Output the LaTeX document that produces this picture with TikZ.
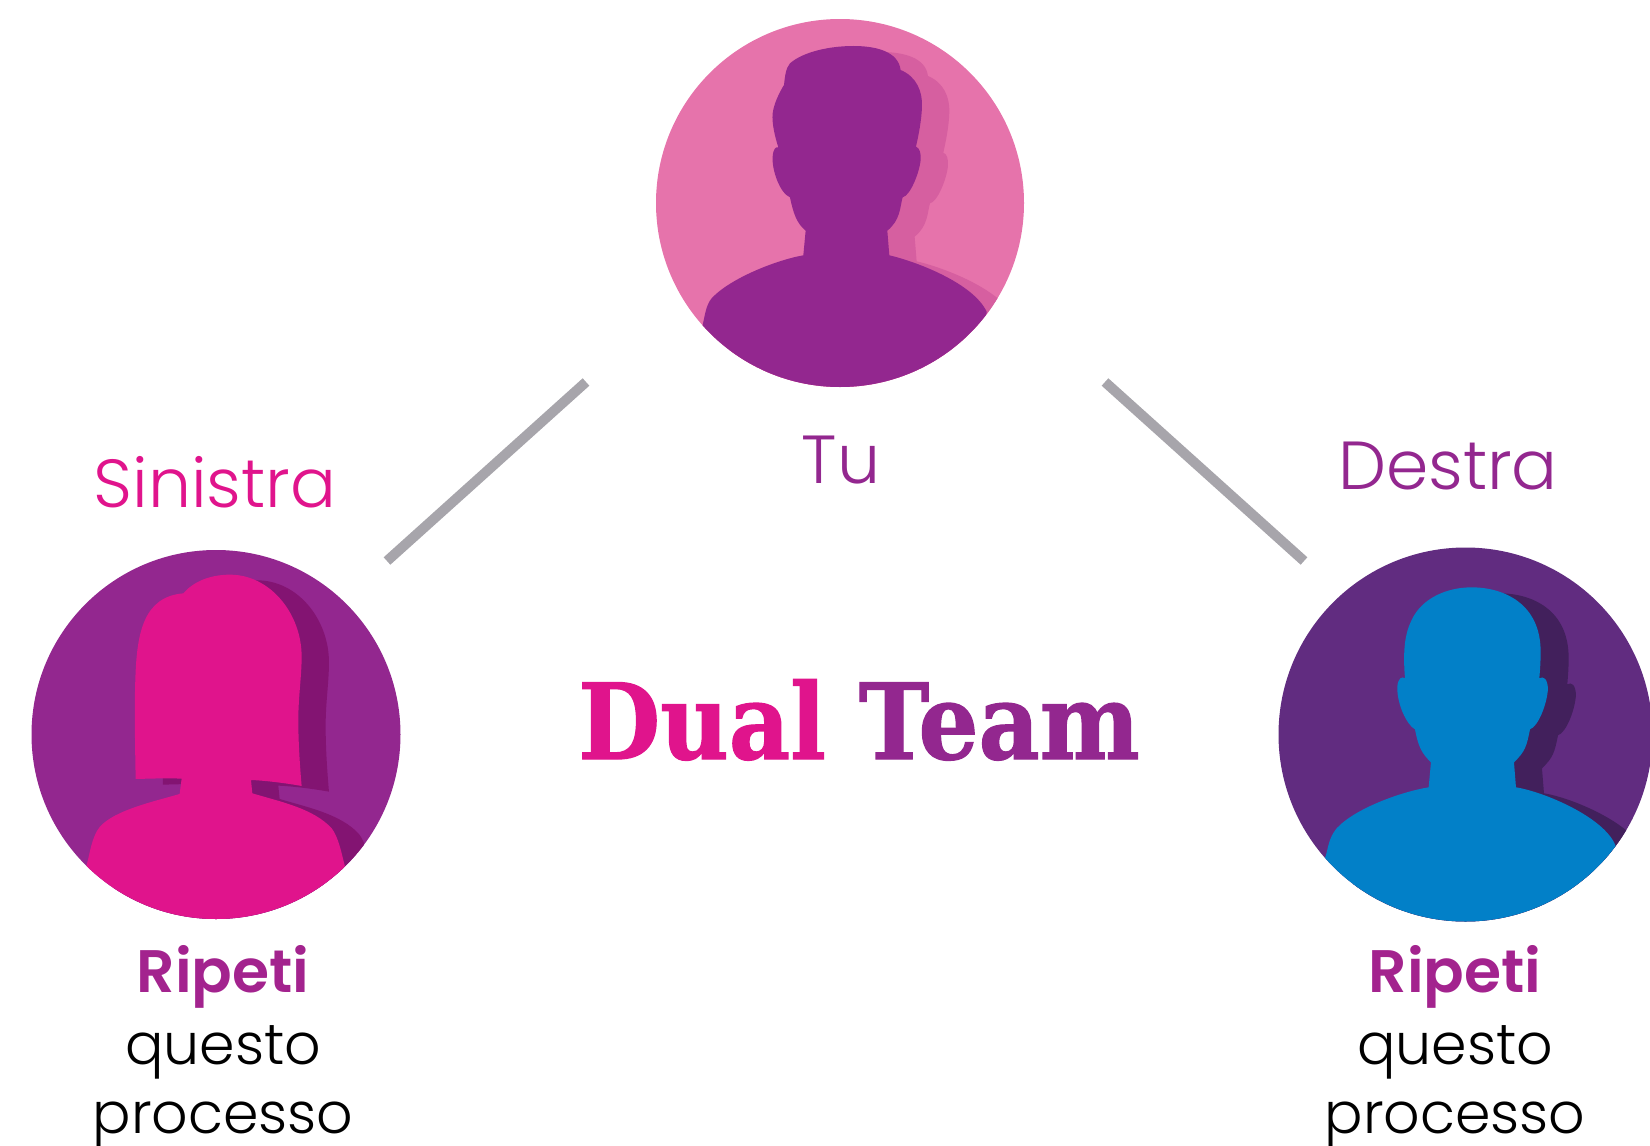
\documentclass[tikz,border=0pt]{standalone}
\usepackage{fontspec}
\setmainfont{Poppins Light}
\newfontfamily\boldf{Poppins SemiBold}
\newfontfamily\slabf[FakeBold=1.2]{DejaVu Serif Bold}
\definecolor{pinkA}{HTML}{E0148C}
\definecolor{purA}{HTML}{93278F}
\definecolor{pinkL}{HTML}{E673AB}
\definecolor{pinkS}{HTML}{D65FA0}
\definecolor{purS}{HTML}{831472}
\definecolor{vio}{HTML}{612C80}
\definecolor{vioS}{HTML}{42205C}
\definecolor{blu}{HTML}{0280C8}
\definecolor{gry}{HTML}{A7A5AB}
\definecolor{rip}{HTML}{A3238E}
\tikzset{
 link/.style={draw=gry,line width=10pt},
 lab/.style={inner sep=0pt,anchor=base,font=\fontsize{68}{68}\selectfont},
 body/.style={inner sep=0pt,anchor=base,font=\fontsize{57}{57}\selectfont},
 bold/.style={inner sep=0pt,anchor=base,text=rip,font=\fontsize{60}{60}\selectfont\boldf},
}
\newcommand{\manpath}{
 (188,945) .. controls (195,915) and (198,885) .. (215,865) .. controls (270,805) and (410,750) .. (490,736)
 -- (497,662) .. controls (470,640) and (460,610) .. (450,562)
 .. controls (420,550) and (395,480) .. (398,440) .. controls (400,415) and (408,410) .. (415,412)
 .. controls (405,380) and (395,340) .. (398,310) .. controls (403,270) and (432,225) .. (432,225)
 .. controls (435,200) and (437,175) .. (450,160) .. controls (490,125) and (570,108) .. (640,108)
 .. controls (710,108) and (775,125) .. (782,180) .. controls (830,200) and (848,245) .. (846,290)
 .. controls (845,330) and (835,380) .. (828,410) .. controls (840,415) and (843,430) .. (842,450)
 .. controls (838,490) and (810,558) .. (788,562) .. controls (780,590) and (782,630) .. (742,662)
 -- (748,736) .. controls (830,755) and (1000,820) .. (1040,905) -- (1040,1150) -- (188,1150) -- cycle}
\newcommand{\girlpath}{
 (200,975) .. controls (210,940) and (215,890) .. (240,860) .. controls (285,810) and (400,785) .. (479,762)
 -- (485,716) .. controls (440,714) and (390,716) .. (347,717) .. controls (345,600) and (343,500) .. (346,420)
 .. controls (350,280) and (370,170) .. (490,160) .. controls (520,125) and (570,104) .. (630,104)
 .. controls (750,104) and (845,220) .. (845,350) .. controls (845,410) and (835,470) .. (835,540)
 .. controls (835,610) and (840,680) .. (845,738) .. controls (800,730) and (740,722) .. (693,720)
 -- (697,760) .. controls (780,785) and (880,805) .. (935,865) .. controls (955,890) and (965,940) .. (975,980)
 -- (975,1150) -- (200,1150) -- cycle}
\newcommand{\guypath}{
 (165,955) .. controls (175,925) and (175,895) .. (200,865) .. controls (255,805) and (395,755) .. (476,742)
 -- (483,667) .. controls (455,640) and (445,620) .. (435,568)
 .. controls (410,555) and (380,490) .. (382,440) .. controls (384,415) and (395,408) .. (405,415)
 .. controls (398,330) and (405,280) .. (425,240) .. controls (455,175) and (530,142) .. (605,142)
 .. controls (700,142) and (812,190) .. (812,335) .. controls (812,370) and (810,390) .. (808,415)
 .. controls (820,408) and (832,415) .. (834,445) .. controls (832,490) and (805,560) .. (780,568)
 .. controls (770,620) and (765,635) .. (732,667)
 -- (738,742) .. controls (820,755) and (1000,830) .. (1036,915) -- (1036,1150) -- (165,1150) -- cycle}
\begin{document}
\begin{tikzpicture}[x=1pt,y=-1pt]
\useasboundingbox (0,0) rectangle (1650,1146);
% top
\fill[pinkL] (840,203) circle[radius=184];
\begin{scope}
 \clip (840,203) circle[radius=184];
 \begin{scope}[shift={(640,10)},x=0.3333pt,y=-0.3333pt]
  \begin{scope}[shift={(82,18)}]\fill[pinkS] \manpath;\end{scope}
  \fill[purA] \manpath;
 \end{scope}
\end{scope}
% left
\fill[purA] (216,734.5) circle[radius=184.5];
\begin{scope}
 \clip (216,734.5) circle[radius=184.5];
 \begin{scope}[shift={(20,540)},x=0.3333pt,y=-0.3333pt]
  \begin{scope}[shift={(82,17)}]\fill[purS] \girlpath;\end{scope}
  \fill[pinkA] \girlpath;
 \end{scope}
\end{scope}
% right
\fill[vio] (1465.5,734.5) circle[radius=187];
\begin{scope}
 \clip (1465.5,734.5) circle[radius=187];
 \begin{scope}[shift={(1270,540)},x=0.3333pt,y=-0.3333pt]
  \begin{scope}[shift={(84,18)}]\fill[vioS] \guypath;\end{scope}
  \fill[blu] \guypath;
 \end{scope}
\end{scope}
% links
\coordinate (la) at (586,382); \coordinate (lb) at (387,561);
\coordinate (ra) at (1105,382); \coordinate (rb) at (1304,561);
\draw[link] (la) -- (lb);
\draw[link] (ra) -- (rb);
% labels
\node[lab,text=pinkA] (sin) at (215,507) {Sinistra};
\node[lab,text=purA] (tu) at (841,483) {Tu};
\node[lab,text=purA] (des) at (1448,489) {Destra};
\node[bold] (r1) at (223,992) {Ripeti};
\node[body] (q1) at (223,1064) {questo};
\node[body] (p1) at (223,1133) {processo};
\node[bold] (r2) at (1455,992) {Ripeti};
\node[body] (q2) at (1455,1064) {questo};
\node[body] (p2) at (1455,1133) {processo};
\node[inner sep=0pt,anchor=base,xscale=0.9,font=\fontsize{105}{105}\selectfont\slabf] (dt) at (859,759) {\textcolor{pinkA}{Dual} \textcolor{purA}{Team}};
\end{tikzpicture}
\end{document}
